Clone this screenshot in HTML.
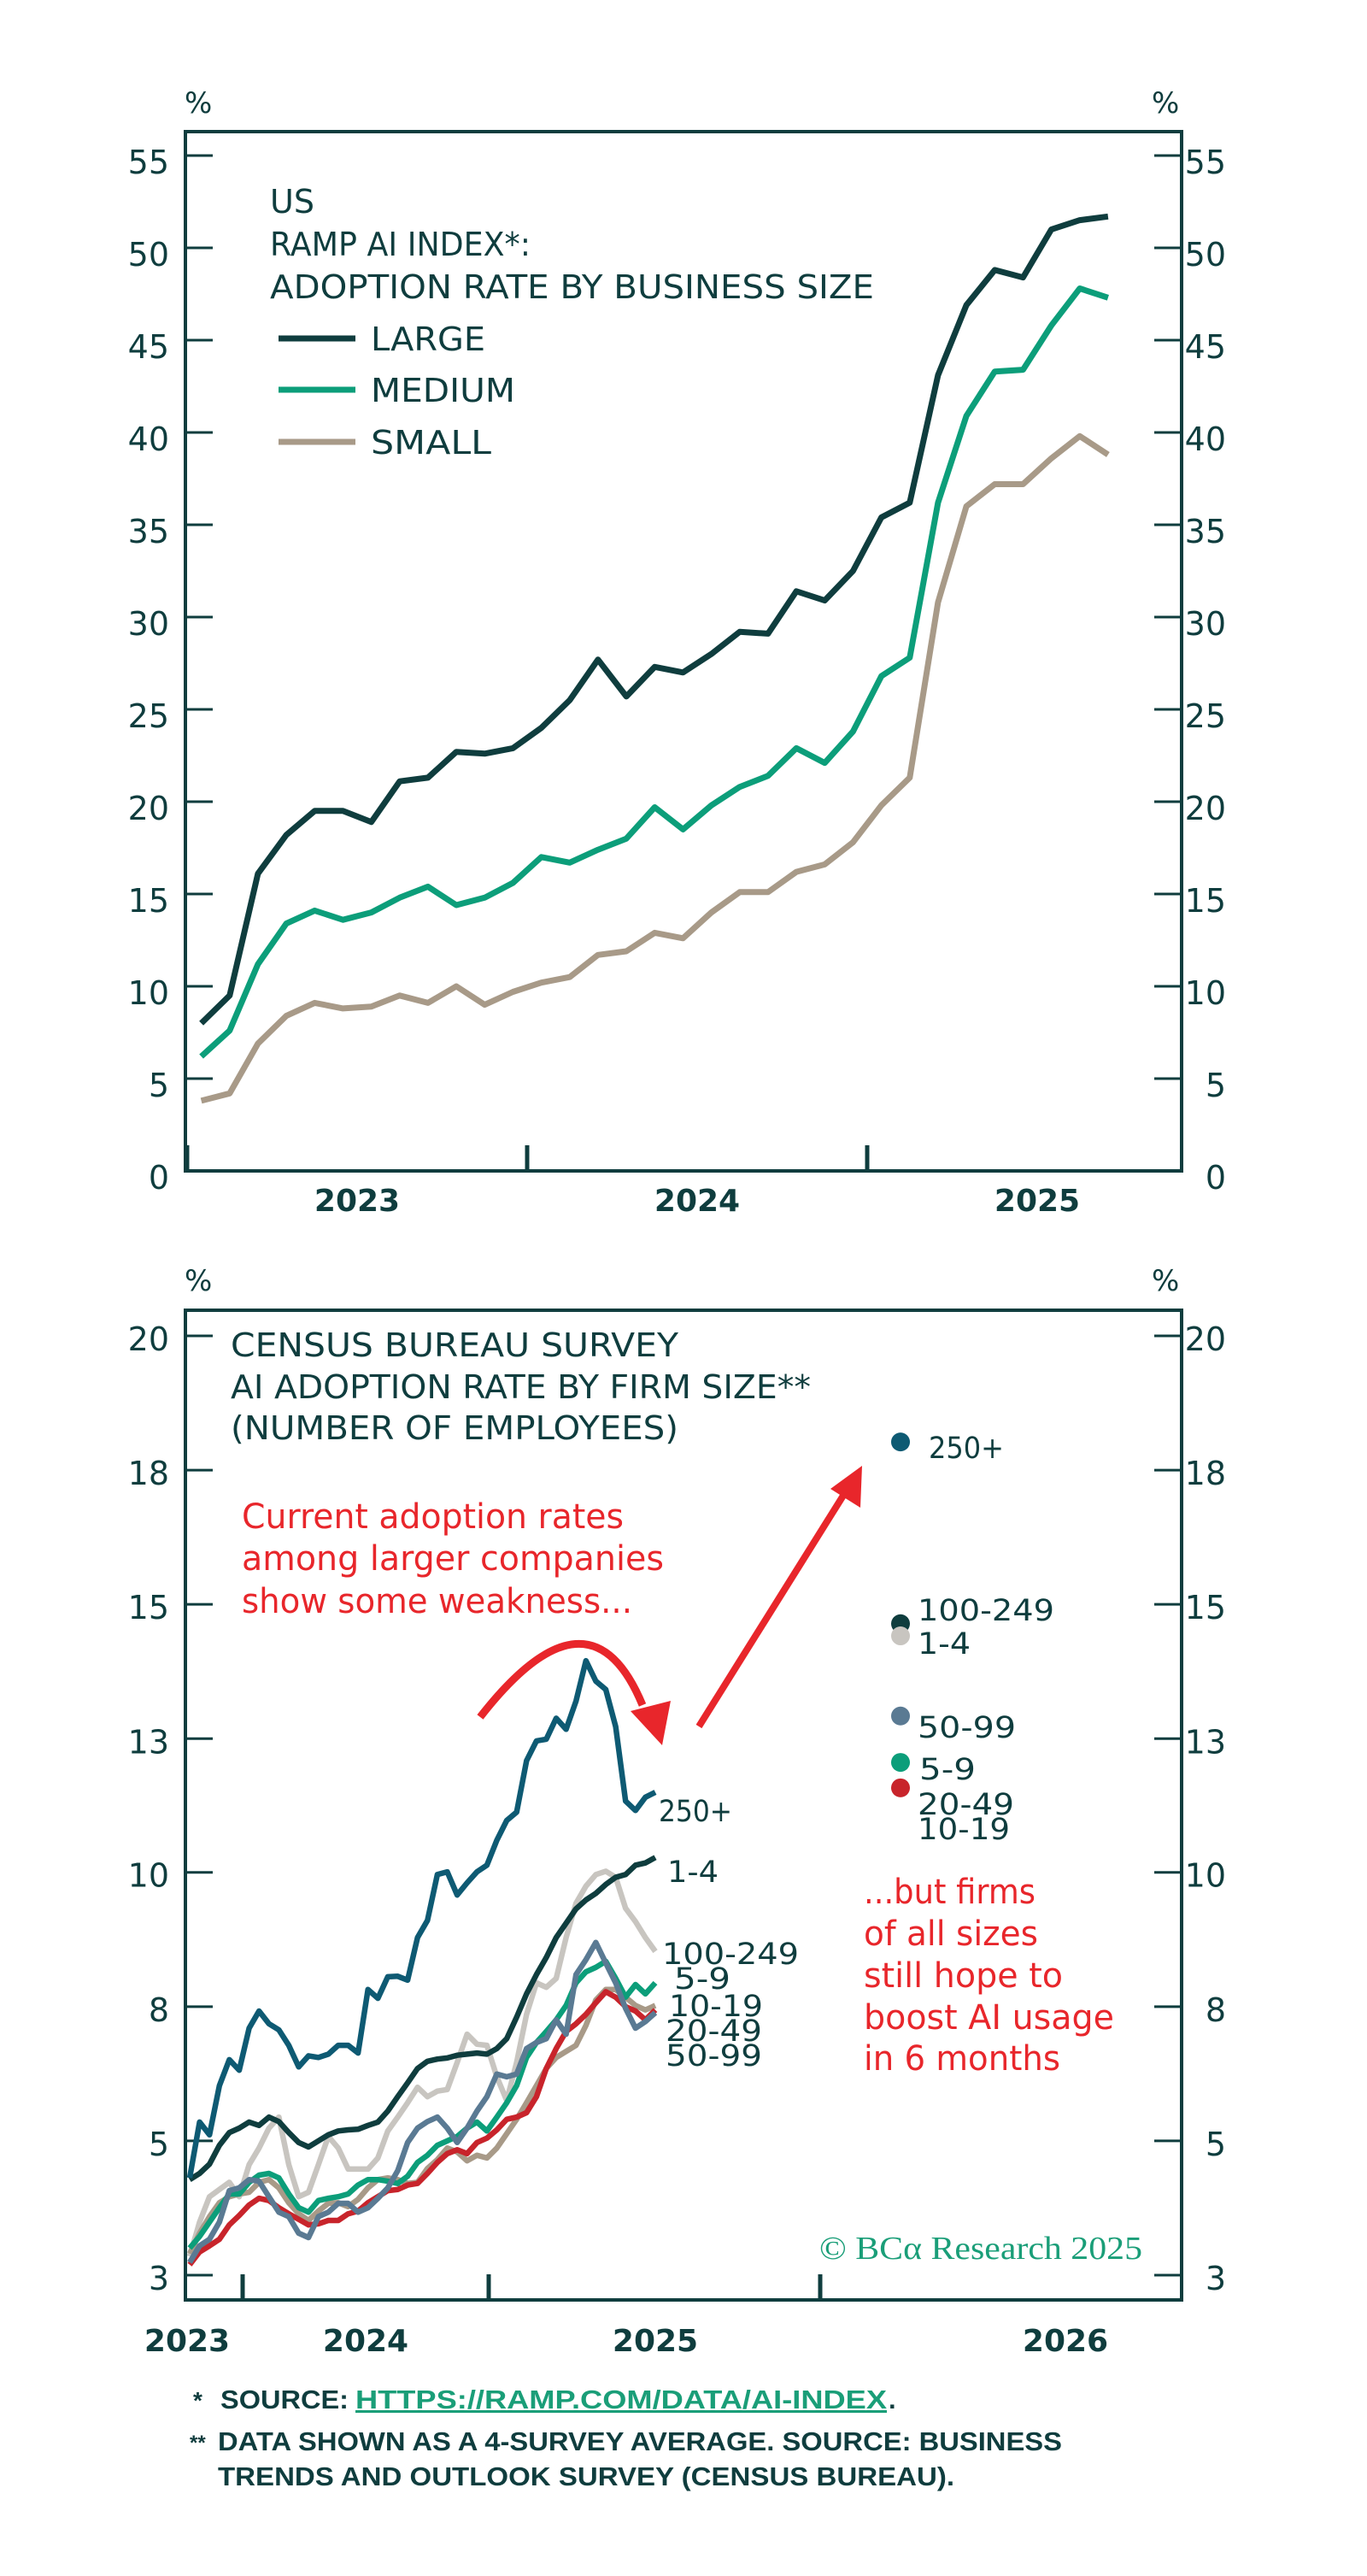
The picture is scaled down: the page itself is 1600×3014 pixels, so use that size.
<!DOCTYPE html>
<html><head><meta charset="utf-8"><style>
html,body{margin:0;padding:0;background:#fff;}
svg{display:block;font-family:"DejaVu Sans","Liberation Sans",sans-serif;}
</style></head><body>
<svg id="c" width="1600" height="3014" viewBox="0 0 1600 3014" xmlns="http://www.w3.org/2000/svg">
<rect x="0" y="0" width="1600" height="3014" fill="#fff"/>
<g id="top"></g>
<g id="bot"></g>
<g fill="#0f3d3e" font-weight="bold" font-family="'Liberation Sans Narrow','Liberation Sans',sans-serif">
<text x="226" y="2818" font-size="28">*</text>
<text x="258" y="2818" font-size="31" textLength="150" lengthAdjust="spacingAndGlyphs">SOURCE:</text>
<text x="416" y="2818" font-size="31" fill="#1a9e78" text-decoration="underline" textLength="622" lengthAdjust="spacingAndGlyphs">HTTPS://RAMP.COM/DATA/AI-INDEX</text>
<text x="1040" y="2818" font-size="31">.</text>
<text x="222" y="2866" font-size="24">**</text>
<text x="255" y="2867" font-size="31" textLength="988" lengthAdjust="spacingAndGlyphs">DATA SHOWN AS A 4-SURVEY AVERAGE. SOURCE: BUSINESS</text>
<text x="255" y="2908" font-size="31" textLength="862" lengthAdjust="spacingAndGlyphs">TRENDS AND OUTLOOK SURVEY (CENSUS BUREAU).</text>
</g>
</svg>
<script>
// ---------- TOP CHART DATA (monthly, Jan 2023 .. Sep 2025) ----------
const topStart = 2023 + 0.5/12;
const topLarge = [8.0,9.5,16.1,18.2,19.5,19.5,18.9,21.1,21.3,22.7,22.6,22.9,24.0,25.5,27.7,25.7,27.3,27.0,28.0,29.2,29.1,31.4,30.9,32.5,35.4,36.2,43.1,46.9,48.8,48.4,51.0,51.5,51.7];
const topMedium = [6.2,7.6,11.2,13.4,14.1,13.6,14.0,14.8,15.4,14.4,14.8,15.6,17.0,16.7,17.4,18.0,19.7,18.5,19.8,20.8,21.4,22.9,22.1,23.8,26.8,27.8,36.2,40.9,43.3,43.4,45.8,47.8,47.3];
const topSmall = [3.8,4.2,6.9,8.4,9.1,8.8,8.9,9.5,9.1,10.0,9.0,9.7,10.2,10.5,11.7,11.9,12.9,12.6,14.0,15.1,15.1,16.2,16.6,17.8,19.8,21.3,30.8,36.0,37.2,37.2,38.6,39.8,38.8];
const topYTicks = [0,5,10,15,20,25,30,35,40,45,50,55];
const topYears = ["2023","2024","2025"];

// ---------- BOTTOM CHART DATA (biweekly 4-survey avg) ----------
const s250 = [4.76,5.77,5.54,6.43,6.90,6.71,7.47,7.78,7.55,7.44,7.16,6.77,6.97,6.94,7.0,7.16,7.16,7.02,8.17,8.01,8.40,8.41,8.34,9.11,9.42,10.25,10.3,9.88,10.1,10.3,10.42,10.87,11.23,11.38,12.31,12.67,12.70,13.08,12.88,13.39,14.12,13.75,13.6,12.93,11.58,11.41,11.65,11.74];
const s1_4 = [4.73,4.84,5.01,5.35,5.58,5.66,5.77,5.71,5.86,5.78,5.58,5.40,5.32,5.43,5.54,5.61,5.63,5.64,5.71,5.77,5.97,6.23,6.48,6.74,6.87,6.91,6.93,6.98,7.0,7.02,7.0,7.10,7.28,7.67,8.09,8.44,8.75,9.11,9.37,9.63,9.79,9.91,10.07,10.2,10.25,10.42,10.46,10.56];
const s100 = [3.34,3.96,4.42,4.55,4.68,4.42,5.0,5.30,5.66,5.86,5.0,4.42,4.50,5.0,5.51,5.30,4.92,4.92,4.92,5.12,5.61,5.86,6.12,6.40,6.23,6.33,6.36,6.85,7.36,7.18,7.16,6.59,6.16,6.85,7.72,8.29,8.21,8.37,9.11,9.73,10.04,10.25,10.31,10.2,9.64,9.40,9.11,8.86];
const s5_9 = [3.49,3.70,3.96,4.22,4.47,4.47,4.68,4.81,4.84,4.76,4.47,4.22,4.14,4.35,4.39,4.42,4.47,4.63,4.73,4.73,4.70,4.66,4.79,5.04,5.17,5.35,5.43,5.51,5.66,5.77,5.61,5.86,6.12,6.43,6.94,7.21,7.41,7.62,7.88,8.29,8.49,8.57,8.68,8.37,8.03,8.26,8.09,8.29];
const s10_19 = [3.39,3.76,4.06,4.31,4.42,4.47,4.50,4.68,4.73,4.58,4.31,4.11,3.99,4.16,4.30,4.31,4.24,4.37,4.58,4.73,4.76,4.73,4.66,4.68,4.93,5.09,5.30,5.23,5.07,5.17,5.12,5.30,5.56,5.82,6.12,6.43,6.74,6.94,7.05,7.16,7.52,7.98,8.17,8.17,8.03,7.88,7.80,7.88];
const s20_49 = [3.19,3.42,3.53,3.65,3.91,4.08,4.27,4.39,4.35,4.22,4.11,4.01,3.91,3.93,3.99,3.99,4.11,4.16,4.31,4.42,4.53,4.55,4.63,4.66,4.84,5.04,5.20,5.27,5.20,5.40,5.48,5.63,5.82,5.86,5.94,6.23,6.74,7.10,7.41,7.55,7.72,7.93,8.13,8.03,7.86,7.78,7.62,7.80];
const s50_99 = [3.23,3.53,3.65,3.96,4.53,4.58,4.73,4.70,4.42,4.14,4.06,3.76,3.68,4.06,4.14,4.30,4.30,4.14,4.22,4.39,4.58,4.89,5.40,5.66,5.78,5.86,5.66,5.40,5.66,5.97,6.23,6.64,6.59,6.64,7.10,7.21,7.28,7.62,7.36,8.44,8.71,9.02,8.65,8.29,7.83,7.47,7.59,7.75];
const expNames = ["250+","100-249","1-4","50-99","5-9","20-49"];
const expValues = [18.08,14.79,14.57,13.12,12.28,11.82];
const botYTicks = [20,17.57,15.14,12.71,10.29,7.86,5.43,3];
const botYLabels = ["20","18","15","13","10","8","5","3"];
const botXLabels = ["2023","2024","2025","2026"];

const NS="http://www.w3.org/2000/svg";
function mk(parent, tag, attrs, text){
  const e=document.createElementNS(NS,tag);
  for(const k in attrs) e.setAttribute(k, attrs[k]);
  if(text!==undefined) e.textContent=text;
  parent.appendChild(e); return e;
}
const DARK="#0f3d3e";

// ---------- TOP ----------
const T=document.getElementById('top');
const tL=217,tR=1383,tT=154,tB=1370;
function tx(t){return 219+(t-2023)*398;}
function ty(v){return tB - v*21.6;}
let e;
e=mk(T,'rect',{x:tL,y:tT,width:tR-tL,height:tB-tT,fill:'none',stroke:DARK,'stroke-width':4});


topYTicks.forEach(v=>{
  const y=ty(v);
  if(v>0){
    e=mk(T,'line',{x1:tL,x2:tL+32,y1:y,y2:y,stroke:DARK,'stroke-width':3});
    
    
    e=mk(T,'line',{x1:tR-32,x2:tR,y1:y,y2:y,stroke:DARK,'stroke-width':3});
    
    
  }
  e=mk(T,'text',{x:198,y:y+21,'font-size':38,'text-anchor':'end',fill:DARK},String(v));
  
  
  e=mk(T,'text',{x:1435,y:y+21,'font-size':38,'text-anchor':'end',fill:DARK},String(v));
  
  
});
e=mk(T,'text',{x:216,y:132,'font-size':34,fill:DARK},'%');


e=mk(T,'text',{x:1348,y:132,'font-size':34,fill:DARK},'%');


[2023,2024,2025].forEach(yr=>{
  const x=tx(yr);
  e=mk(T,'line',{x1:x,x2:x,y1:tB,y2:tB-30,stroke:DARK,'stroke-width':5});
  
  
});
topYears.forEach((s,i)=>{
  e=mk(T,'text',{x:tx(2023.5+i),y:1417,'font-size':36,'font-weight':'bold','text-anchor':'middle',fill:DARK},s);
  
  
});
function topLine(arr,color,name){
  const d=arr.map((v,i)=>(i?'L':'M')+tx(topStart+i/12).toFixed(1)+','+ty(v).toFixed(1)).join(' ');
  const p=mk(T,'path',{d:d,fill:'none',stroke:color,'stroke-width':7,'stroke-linejoin':'round'});
  
  
}
topLine(topSmall,'#a89a88','small-line');
topLine(topMedium,'#0c9e7a','medium-line');
topLine(topLarge,DARK,'large-line');
[["US",249,52],["RAMP AI INDEX*:",299,305],["ADOPTION RATE BY BUSINESS SIZE",349,707]].forEach((a,i)=>{
  e=mk(T,'text',{x:316,y:a[1],'font-size':38,fill:DARK,textLength:a[2],lengthAdjust:'spacingAndGlyphs'},a[0]);
  
  
});
[["LARGE",DARK,396,134],["MEDIUM",'#0c9e7a',456,169],["SMALL",'#a89a88',517,141]].forEach(a=>{
  e=mk(T,'line',{x1:326,x2:416,y1:a[2],y2:a[2],stroke:a[1],'stroke-width':7});
  
  
  e=mk(T,'text',{x:434,y:a[2]+14,'font-size':38,fill:DARK,textLength:a[3],lengthAdjust:'spacingAndGlyphs'},a[0]);
  
  
});

// ---------- BOTTOM ----------
const B=document.getElementById('bot');
const bL=217,bR=1383,bT=1533,bB=2691;
function by(v){return 2662-(v-3)*(157*7/17);}
function bxi(i){return 222+i*(545/47);}
e=mk(B,'rect',{x:bL,y:bT,width:bR-bL,height:bB-bT,fill:'none',stroke:DARK,'stroke-width':4});


botYTicks.forEach((v,k)=>{
  const y=by(v);
  e=mk(B,'line',{x1:bL,x2:bL+32,y1:y,y2:y,stroke:DARK,'stroke-width':3});
  
  
  e=mk(B,'line',{x1:bR-32,x2:bR,y1:y,y2:y,stroke:DARK,'stroke-width':3});
  
  
  e=mk(B,'text',{x:198,y:y+17,'font-size':38,'text-anchor':'end',fill:DARK},botYLabels[k]);
  
  
  e=mk(B,'text',{x:1435,y:y+17,'font-size':38,'text-anchor':'end',fill:DARK},botYLabels[k]);
  
  
});
e=mk(B,'text',{x:216,y:1510,'font-size':34,fill:DARK},'%');


e=mk(B,'text',{x:1348,y:1510,'font-size':34,fill:DARK},'%');


[284,572,960].forEach(x=>{
  e=mk(B,'line',{x1:x,x2:x,y1:bB,y2:bB-30,stroke:DARK,'stroke-width':5});
  
  
});
[219,428,767,1247].forEach((x,i)=>{
  e=mk(B,'text',{x:x,y:2751,'font-size':36,'font-weight':'bold','text-anchor':'middle',fill:DARK},botXLabels[i]);
  
  
});
function botLine(arr,color,name){
  const d=arr.map((v,i)=>(i?'L':'M')+bxi(i).toFixed(1)+','+by(v).toFixed(1)).join(' ');
  const p=mk(B,'path',{d:d,fill:'none',stroke:color,'stroke-width':6.5,'stroke-linejoin':'round'});
  
  
}
botLine(s100,'#c8c5c0','line-100-249');
botLine(s10_19,'#a89a88','line-10-19');
botLine(s20_49,'#c8242b','line-20-49');
botLine(s5_9,'#0c9e7a','line-5-9');
botLine(s50_99,'#5a7a93','line-50-99');
botLine(s1_4,DARK,'line-1-4');
botLine(s250,'#0e5a73','line-250-plus');
const endLabels=[["250+",771,2118,86],["1-4",781,2189,60],["100-249",775,2285,160],["5-9",789,2314,66],["10-19",783,2346,110],["20-49",779,2375,113],["50-99",779,2404,113]];
endLabels.forEach(a=>{
  e=mk(B,'text',{x:a[1],y:a[2]+13,'font-size':35,fill:DARK,textLength:a[3],lengthAdjust:'spacingAndGlyphs'},a[0]);
  
  
});
const expColors=['#0e5a73',DARK,'#c8c5c0','#5a7a93','#0c9e7a','#c8242b'];
expValues.forEach((v,i)=>{
  e=mk(B,'circle',{cx:1054,cy:by(v),r:11,fill:expColors[i]});
  
  
});
const expLabels=[["250+",1087,1693,88],["100-249",1074,1883,160],["1-4",1074,1922,62],["50-99",1074,2020,115],["5-9",1076,2069,66],["20-49",1074,2110,113],["10-19",1074,2139,108]];
expLabels.forEach(a=>{
  e=mk(B,'text',{x:a[1],y:a[2]+13,'font-size':35,fill:DARK,textLength:a[3],lengthAdjust:'spacingAndGlyphs'},a[0]);
  
  
});
[["CENSUS BUREAU SURVEY",1573,524],["AI ADOPTION RATE BY FIRM SIZE**",1622,679],["(NUMBER OF EMPLOYEES)",1670,524]].forEach(a=>{
  e=mk(B,'text',{x:270,y:a[1]+14,'font-size':38,fill:DARK,textLength:a[2],lengthAdjust:'spacingAndGlyphs'},a[0]);
  
  
});
const RED="#e8262b";
[["Current adoption rates",1774,447],["among larger companies",1823,494],["show some weakness...",1873,457]].forEach(a=>{
  e=mk(B,'text',{x:283,y:a[1]+14,'font-size':40,fill:RED,textLength:a[2],lengthAdjust:'spacingAndGlyphs'},a[0]);
  
  
});
[["...but firms",2213,201],["of all sizes",2262,204],["still hope to",2311,233],["boost AI usage",2360,293],["in 6 months",2408,230]].forEach(a=>{
  e=mk(B,'text',{x:1011,y:a[1]+14,'font-size':40,fill:RED,textLength:a[2],lengthAdjust:'spacingAndGlyphs'},a[0]);
  
  
});
e=mk(B,'path',{d:'M562,2009 Q690,1845 752,1995',fill:'none',stroke:RED,'stroke-width':9});


e=mk(B,'polygon',{points:'738,2002 785,1990 775,2042',fill:RED});


e=mk(B,'line',{x1:818,y1:2020,x2:990,y2:1745,stroke:RED,'stroke-width':8});


e=mk(B,'polygon',{points:'1009,1715 1007,1764 972,1742',fill:RED});


e=mk(B,'text',{x:959,y:2643,'font-size':38,fill:'#1a9e78','font-family':'"Liberation Serif",serif',textLength:378,lengthAdjust:'spacingAndGlyphs'},'© BCα Research 2025');


</script>
</body></html>
